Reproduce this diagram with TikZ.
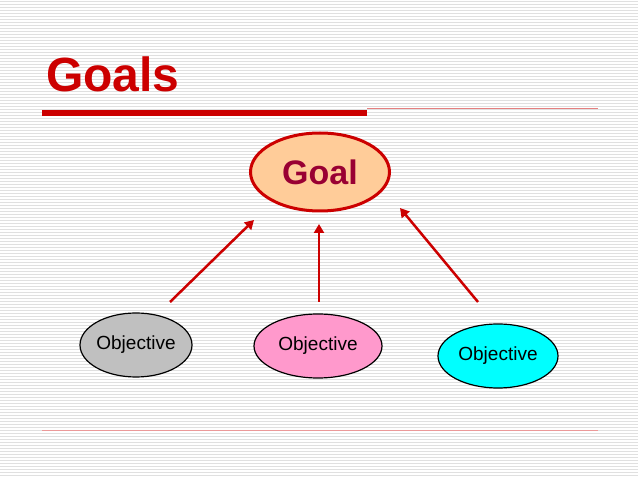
\documentclass[tikz,border=0pt]{standalone}
\usepackage{fontspec}
\setmainfont{Liberation Sans}
\usetikzlibrary{arrows.meta,shapes.geometric}
\definecolor{tred}{RGB}{204,0,0}
\definecolor{dred}{RGB}{153,0,51}
\definecolor{gfill}{RGB}{255,204,153}
\definecolor{o1fill}{RGB}{192,192,192}
\definecolor{o2fill}{RGB}{255,153,204}
\definecolor{o3fill}{RGB}{0,255,255}
\tikzset{
  obj/.style={draw=black,line width=1.2pt,ellipse,inner sep=0pt,font=\fontsize{19}{22}\selectfont},
  arr/.style={draw=tred,line width=2.5pt,-{Triangle[length=9pt,width=10pt]}}
}
\begin{document}
\begin{tikzpicture}[x=1pt,y=-1pt]
\useasboundingbox (0,0) rectangle (638,478);
\fill[white] (0,0) rectangle (638,478);
\foreach \i in {0,...,159} {\draw[black!12,line width=0.6pt] (0,\i*3+1) -- (638,\i*3+1);}
\node[anchor=base west,text=tred,font=\bfseries\fontsize{48}{52}\selectfont,inner sep=0pt] (title) at (46,92) {Goals};
\fill[tred] (42,110) rectangle (367,116);
\draw[tred!50,line width=1pt] (367,108.5) -- (598,108.5);
\draw[tred!40,line width=0.7pt] (42,430) -- (598,430);
\node[draw=tred,fill=gfill,line width=3pt,ellipse,minimum width=139pt,minimum height=78pt,text=dred,font=\bfseries\fontsize{34}{38}\selectfont] (goal) at (320,172) {Goal};
\node[obj,fill=o1fill,minimum width=92pt,minimum height=64pt] (o1) at (136,345) {Objective};
\node[obj,fill=o2fill,minimum width=128pt,minimum height=64pt] (o2) at (318,346) {Objective};
\node[obj,fill=o3fill,minimum width=120pt,minimum height=64pt] (o3) at (498,356) {Objective};
\coordinate (a1s) at (170,302); \coordinate (a1e) at (254,220);
\coordinate (a2s) at (319,302); \coordinate (a2e) at (319,224);
\coordinate (a3s) at (478,302); \coordinate (a3e) at (400,208);
\draw[arr] (a1s) -- (a1e);
\draw[arr] (a2s) -- (a2e);
\draw[arr] (a3s) -- (a3e);
\end{tikzpicture}
\end{document}
